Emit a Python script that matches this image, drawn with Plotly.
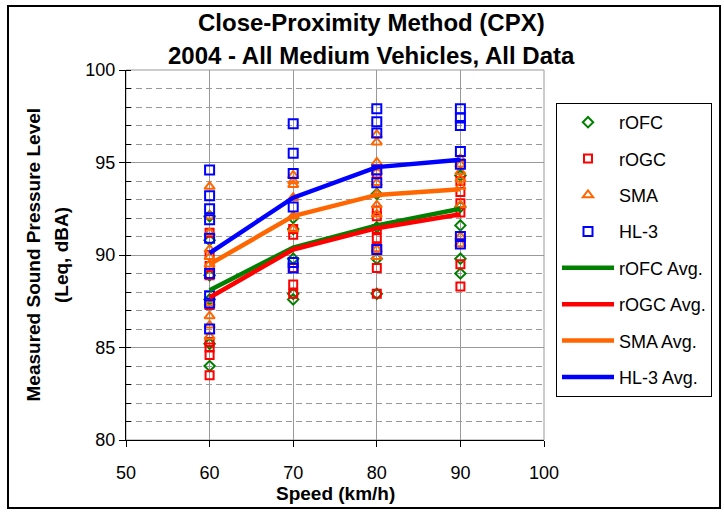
import plotly.graph_objects as go

# Test speeds (km/h)
speeds = [60, 70, 80, 90]

# Individual measurements (dBA), one list per speed
rofc_levels = [
    [92.1, 90.8, 88.9, 87.6, 85.2, 84.0],
    [92.0, 91.4, 89.8, 87.9, 87.6],
    [93.3, 91.5, 89.8, 87.9],
    [94.3, 92.6, 91.6, 89.8, 89.0],
]
rogc_levels = [
    [91.2, 90.0, 89.4, 88.9, 87.3, 85.3, 85.0, 84.6, 83.5],
    [91.4, 91.1, 89.3, 88.4, 87.9],
    [94.4, 92.4, 92.1, 91.4, 90.9, 90.4, 89.3, 87.9],
    [94.0, 93.4, 92.8, 92.3, 89.5, 88.3],
]
sma_levels = [
    [93.7, 92.1, 91.2, 90.3, 89.9, 89.5, 87.4, 86.7, 86.2, 85.6],
    [94.3, 94.0, 93.8, 93.1, 92.1, 91.4],
    [96.5, 96.1, 95.0, 94.5, 93.9, 93.3, 92.7, 92.2, 90.3, 89.9],
    [95.2, 94.9, 94.5, 94.1, 93.7, 92.7, 91.0, 90.6],
]
hl3_levels = [
    [94.6, 93.2, 92.5, 91.9, 90.9, 89.0, 87.8, 87.4, 86.0],
    [97.1, 95.5, 94.4, 92.6, 89.6, 89.3],
    [97.9, 97.2, 96.6, 94.6, 93.9, 90.3],
    [97.9, 97.4, 97.0, 95.6, 94.9, 91.0, 90.6],
]

# Average level per speed
rofc_avg = [88.1, 90.4, 91.6, 92.5]
rogc_avg = [87.7, 90.3, 91.45, 92.2]
sma_avg = [89.5, 92.1, 93.25, 93.55]
hl3_avg = [90.1, 93.1, 94.75, 95.15]

GREEN = "#008000"
RED = "#FF0000"
ORANGE = "#FF6600"
BLUE = "#0000FF"
FONT = "Liberation Sans, Arial, sans-serif"


def flatten(levels):
    xs, ys = [], []
    for s, vals in zip(speeds, levels):
        xs += [s] * len(vals)
        ys += vals
    return xs, ys


fig = go.Figure()

point_series = [
    ("rOFC", rofc_levels, GREEN, "diamond-open", 8),
    ("rOGC", rogc_levels, RED, "square-open", 8),
    ("SMA", sma_levels, ORANGE, "triangle-up-open", 9),
    ("HL-3", hl3_levels, BLUE, "square-open", 9),
]
for name, levels, color, symbol, size in point_series:
    xs, ys = flatten(levels)
    fig.add_trace(go.Scatter(
        x=xs, y=ys, mode="markers", name=name, legendgroup=name,
        marker=dict(symbol=symbol, size=size, color=color,
                    line=dict(color=color, width=2)),
    ))

avg_series = [
    ("rOFC Avg.", rofc_avg, GREEN),
    ("rOGC Avg.", rogc_avg, RED),
    ("SMA Avg.", sma_avg, ORANGE),
    ("HL-3 Avg.", hl3_avg, BLUE),
]
for name, vals, color in avg_series:
    fig.add_trace(go.Scatter(
        x=speeds, y=vals, mode="lines", name=name, legendgroup=name,
        line=dict(color=color, width=4.5),
    ))

# Plot frame: grey top/right edges
fig.add_shape(type="rect", xref="x domain", yref="y domain",
              x0=0, x1=1, y0=0, y1=1, line=dict(color="#999999", width=1),
              layer="below")
# Outer chart border
fig.add_shape(type="rect", xref="paper", yref="paper",
              x0=-0.2823, x1=1.4211, y0=-0.1838, y1=1.173,
              line=dict(color="black", width=2))

# Titles
fig.add_annotation(text="<b>Close-Proximity Method (CPX)</b>", xref="paper", yref="paper",
                   x=0.5885, y=1 - (22 - 70) / 370, showarrow=False,
                   xanchor="center", yanchor="middle",
                   font=dict(family=FONT, size=24, color="black"))
fig.add_annotation(text="<b>2004 - All Medium Vehicles, All Data</b>", xref="paper", yref="paper",
                   x=0.5885, y=1 - (56 - 70) / 370, showarrow=False,
                   xanchor="center", yanchor="middle",
                   font=dict(family=FONT, size=24, color="black"))
fig.add_annotation(text="<b>Measured Sound Pressure Level</b>", xref="paper", yref="paper",
                   x=(32.5 - 126) / 418, y=0.5, textangle=-90, showarrow=False,
                   xanchor="center", yanchor="middle",
                   font=dict(family=FONT, size=19, color="black"))
fig.add_annotation(text="<b>(Leq, dBA)</b>", xref="paper", yref="paper",
                   x=(61 - 126) / 418, y=0.5, textangle=-90, showarrow=False,
                   xanchor="center", yanchor="middle",
                   font=dict(family=FONT, size=19, color="black"))
fig.add_annotation(text="<b>Speed (km/h)</b>", xref="paper", yref="paper",
                   x=0.5, y=1 - (493 - 70) / 370, showarrow=False,
                   xanchor="center", yanchor="middle",
                   font=dict(family=FONT, size=19, color="black"))

fig.update_layout(
    width=724, height=513,
    margin=dict(l=126, r=180, t=70, b=73),
    paper_bgcolor="white", plot_bgcolor="white",
    font=dict(family=FONT, size=18, color="black"),
    showlegend=True,
    legend=dict(
        x=(556 - 126) / 418, y=1 - (103 - 70) / 370, xanchor="left", yanchor="top",
        bordercolor="black", borderwidth=1, bgcolor="white",
        traceorder="grouped", tracegroupgap=10, itemwidth=52,
        font=dict(family=FONT, size=18, color="black"),
    ),
)

fig.update_xaxes(
    range=[50, 100], tick0=50, dtick=10,
    showgrid=True, gridcolor="#999999", gridwidth=1,
    showline=True, linecolor="black", linewidth=1,
    ticks="outside", ticklen=6, tickcolor="black",
    ticklabelstandoff=10, zeroline=False,
    tickfont=dict(family=FONT, size=18, color="black"),
)
fig.update_yaxes(
    range=[80, 100], tick0=80, dtick=5,
    showgrid=True, gridcolor="#999999", gridwidth=1,
    showline=True, linecolor="black", linewidth=1,
    ticks="outside", ticklen=6, tickcolor="black",
    zeroline=False,
    tickfont=dict(family=FONT, size=18, color="black"),
    minor=dict(dtick=1, showgrid=True, gridcolor="#999999", griddash="6px,4px",
               gridwidth=1, ticks="inside", ticklen=5, tickcolor="black"),
)

fig.write_html("out.html")
